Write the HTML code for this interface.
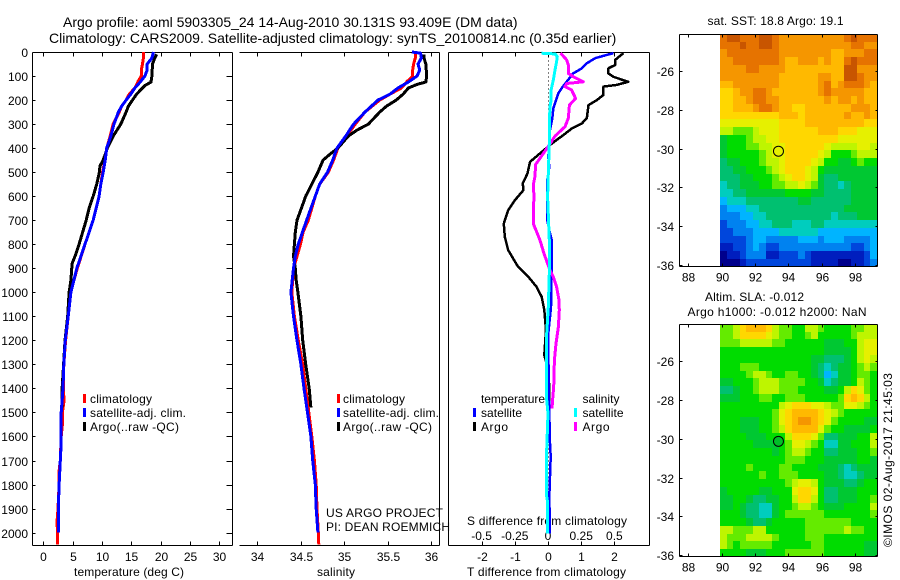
<!DOCTYPE html>
<html>
<head>
<meta charset="utf-8">
<title>Argo profile</title>
<style>
html,body{margin:0;padding:0;background:#fff;}
svg{display:block;}
text{font-family:"Liberation Sans",sans-serif;font-size:12px;fill:#000;}
.title{font-size:14px;}
</style>
</head>
<body>
<svg id="chart" width="900" height="580" viewBox="0 0 900 580" xmlns="http://www.w3.org/2000/svg">
<text class="title" x="63" y="27">Argo profile: aoml 5903305_24 14-Aug-2010 30.131S 93.409E (DM data)</text>
<text class="title" x="49" y="43">Climatology: CARS2009. Satellite-adjusted climatology: synTS_20100814.nc (0.35d earlier)</text>
<text x="74" y="576" textLength="110">temperature (deg C)</text>
<text x="317" y="576" textLength="38">salinity</text>
<text x="467" y="525" textLength="160">S difference from climatology</text>
<text x="467" y="576" textLength="159">T difference from climatology</text>
<text x="326" y="517" textLength="117">US ARGO PROJECT</text>
<text x="326" y="531" textLength="124">PI: DEAN ROEMMICH</text>
<text x="90" y="403" textLength="62">climatology</text>
<text x="90" y="417" textLength="96">satellite-adj. clim.</text>
<text x="90" y="431" textLength="89">Argo(..raw -QC)</text>
<text x="343" y="403" textLength="62">climatology</text>
<text x="343" y="417" textLength="96">satellite-adj. clim.</text>
<text x="343" y="431" textLength="89">Argo(..raw -QC)</text>
<text x="481" y="403" textLength="64">temperature</text>
<text x="481" y="417" textLength="41">satellite</text>
<text x="481" y="431" textLength="27">Argo</text>
<text x="582.5" y="403" textLength="37">salinity</text>
<text x="582.5" y="417" textLength="41">satellite</text>
<text x="582.5" y="431" textLength="27">Argo</text>
<text x="707.5" y="25" textLength="136">sat. SST: 18.8 Argo: 19.1</text>
<text x="705" y="301" textLength="99">Altim. SLA: -0.012</text>
<text x="687.5" y="316" textLength="179">Argo h1000: -0.012 h2000: NaN</text>
<text transform="translate(892,547) rotate(-90)" textLength="174">©IMOS 02-Aug-2017 21:45:03</text>
</svg>
<script>
// ---- Axis tick data ----
const depthTicks = [0,100,200,300,400,500,600,700,800,900,1000,1100,1200,1300,1400,1500,1600,1700,1800,1900,2000];
const tempTicks = [0,5,10,15,20,25,30];
const salTicks = [34,34.5,35,35.5,36];
const salTickLabels = ['34','34.5','35','35.5','36'];
const tDiffTicks = [-2,-1,0,1,2];
const sDiffTicks = [-0.5,-0.25,0,0.25,0.5];
const sDiffTickLabels = ['-0.5','-0.25','0','0.25','0.5'];
const lonTicks = [88,90,92,94,96,98];
const latTicks = [-26,-28,-30,-32,-34,-36];

// ---- Temperature profiles ----
const climTempDepth = [0,25,50,75,100,120,150,175,200,225,250,300,350,400,450,500,550,600,700,800,900,1000,1100,1200,1300,1400,1450,1500,1550,1600,1700,1750,1800,1900,1950,2000,2050];
const climTemp = [17.05,17.05,16.9,16.7,16.7,16.2,15.6,14.65,14.1,13.35,12.95,11.9,11.4,10.8,10.5,10.1,9.8,9.5,8.5,7.1,5.8,4.65,4.25,3.8,3.5,3.4,3.55,3.25,3.25,3.05,2.9,2.65,2.7,2.5,2.35,2.4,2.4];
const satTempDepth = [0,25,50,75,100,125,150,175,200,225,250,300,350,400,450,500,550,600,700,800,900,1000,1100,1200,1300,1400,1500,1650,1700,1800,1900,2000];
const satTemp = [18.75,18.5,17.7,17.7,17.3,16.5,15.6,14.9,14.1,13.35,12.8,12.05,11.5,10.8,10.55,10.2,9.8,9.5,8.5,7.1,5.7,4.7,4.25,3.75,3.5,3.35,3.05,3.0,2.9,2.7,2.55,2.55];
const argoTempDepth = [10,25,50,100,125,140,175,225,250,300,350,400,450,475,500,550,600,650,700,800,850,880,950,1000,1100,1200,1300,1400,1480];
const argoTemp = [19.3,19.0,18.6,18.5,18.35,17.3,15.9,14.5,14.1,13.2,11.9,10.9,10.2,9.65,9.55,9.1,8.5,7.8,7.3,6.1,5.4,4.9,4.7,4.4,4.15,3.7,3.45,3.2,3.15];

// ---- Salinity profiles ----
const climSalDepth = [0,25,50,75,100,125,150,175,200,250,300,350,400,450,500,550,600,700,750,800,850,900,950,1000,1100,1200,1300,1400,1500,1600,1700,1800,1900,2000,2050];
const climSal = [35.82,35.82,35.8,35.79,35.79,35.72,35.66,35.53,35.41,35.24,35.13,35.03,34.93,34.88,34.82,34.72,34.67,34.59,34.53,34.5,34.46,34.42,34.41,34.4,34.43,34.475,34.525,34.56,34.595,34.63,34.66,34.68,34.69,34.705,34.71];
const satSalDepth = [0,5,25,50,75,100,125,150,175,200,250,300,350,400,450,500,550,600,700,800,850,900,1000,1100,1200,1300,1400,1500,1600,1700,1800,1900,2000];
const satSal = [35.78,35.88,35.89,35.85,35.87,35.84,35.74,35.62,35.53,35.39,35.24,35.11,35.02,34.92,34.87,34.81,34.72,34.67,34.57,34.475,34.44,34.42,34.39,34.42,34.46,34.505,34.54,34.58,34.62,34.64,34.67,34.68,34.7];
const argoSalDepth = [10,25,50,100,125,135,150,175,200,225,250,300,325,350,400,425,450,500,550,600,650,700,750,800,850,900,950,1000,1100,1200,1300,1400,1480];
const argoSal = [35.92,35.92,35.94,35.95,35.94,35.84,35.74,35.68,35.6,35.49,35.41,35.28,35.15,35.05,34.93,34.84,34.76,34.7,34.63,34.56,34.51,34.46,34.44,34.43,34.42,34.44,34.45,34.47,34.505,34.525,34.56,34.6,34.62];

// ---- Differences from climatology ----
const diffArgoTDepth = [5,33,54,68,89,103,124,137,144,179,200,221,276,297,318,346,381,422,457,506,547,575,617,658,714,769,825,894,936,978,1019,1061,1074,1157,1261,1308,1377,1470];
const diffArgoT = [2.27,2.02,2.02,1.82,1.82,1.97,2.42,2.07,1.67,1.67,1.47,1.22,1.17,1.02,0.72,0.46,0.11,-0.24,-0.54,-0.62,-0.76,-0.74,-1.0,-1.2,-1.33,-1.3,-1.2,-0.9,-0.59,-0.34,-0.19,-0.13,-0.11,-0.06,-0.11,-0.02,0.03,0.03];
const diffSatTDepth = [5,12,26,47,68,89,124,151,172,214,235,276,325,381,436,478,533,603,700,742,783,894,1061,1171,1261,1337,1448,1628,1684,1767,1851,2003];
const diffSatT = [1.97,1.77,1.42,1.17,1.02,0.76,0.56,0.41,0.31,0.21,0.16,0.13,0.06,0.04,0.01,0.04,-0.02,-0.02,-0.02,0.04,0.11,0.11,0.09,0.01,0.01,0.02,0.03,0.06,0.08,0.06,0.04,0.06];
const diffSatSDepth = [5,8,19,40,75,117,158,200,228,297,381,506,603,783,922,1061,1171,1448,1503,1656,1851,1865,2003];
const diffSatS = [-0.048,0.053,0.07,0.065,0.053,0.04,0.023,0.023,0.015,0.01,0.01,0.002,-0.003,0.01,0.01,0.002,-0.01,-0.01,0,-0.01,-0.01,-0.005,-0.005];
const diffArgoSDepth = [5,33,54,89,103,124,131,144,158,193,221,276,311,350,392,433,468,517,553,594,714,742,783,839,908,936,978,1032,1074,1143,1213,1282,1393,1448,1483];
const diffArgoS = [0.095,0.141,0.153,0.153,0.191,0.266,0.141,0.128,0.178,0.208,0.161,0.153,0.128,0.053,0.003,-0.048,-0.093,-0.098,-0.111,-0.106,-0.111,-0.09,-0.06,-0.03,0.015,0.04,0.065,0.083,0.085,0.078,0.06,0.048,0.043,0.035,0.03];

// ---- Map colour levels ----
const levelColors = ['#00008c','#001ebe','#0046dc','#0082f0','#00b4ff','#00cdbe','#00c070','#00c832','#00dc00','#64eb00','#bef500','#e6f000','#ffd700','#ffb900','#f59600','#e67300','#c85500'];

const sstLevels = [
[15,16,16,15,15,15,16,16,15,14,14,14,14,14,14,14,14,14,14,15,16,15,15,15],
[15,15,15,16,15,15,16,16,15,14,14,14,14,14,14,14,14,14,14,14,15,15,14,14],
[14,15,15,15,15,15,15,15,15,14,14,14,14,14,14,14,14,13,13,14,14,14,15,15],
[14,14,15,15,15,15,15,15,15,14,13,13,14,14,14,13,14,13,13,15,16,15,15,15],
[14,14,14,14,15,15,14,14,14,14,13,13,13,13,13,13,13,13,13,16,16,14,14,14],
[14,14,14,14,14,14,14,14,14,13,13,13,13,13,13,14,14,13,13,16,16,15,14,14],
[13,13,14,14,14,14,14,14,14,13,13,13,13,13,13,14,15,13,14,15,15,15,14,13],
[12,12,13,14,14,15,15,14,13,13,13,13,13,13,13,14,15,14,14,14,14,14,13,13],
[12,12,13,13,14,15,15,14,14,13,13,13,13,13,13,13,14,13,14,14,13,14,13,13],
[12,12,13,13,13,14,15,15,14,13,13,12,12,13,13,13,13,13,13,13,14,14,14,13],
[12,12,12,12,12,12,12,12,12,13,13,13,12,13,13,13,13,13,13,14,13,13,14,13],
[11,11,11,11,11,11,11,11,11,12,12,12,12,13,13,13,13,13,13,13,13,13,12,12],
[10,10,9,9,9,10,11,11,11,12,12,12,12,12,12,13,13,13,12,12,12,11,11,11],
[7,8,8,8,9,10,10,11,11,12,12,12,12,12,12,12,12,12,11,11,11,11,11,11],
[7,8,8,8,9,9,10,10,11,11,12,12,12,12,12,12,11,10,10,10,10,11,11,10],
[7,8,8,8,8,8,9,10,11,11,12,12,12,12,12,11,10,8,8,8,9,10,10,10],
[6,7,7,8,8,8,9,10,10,11,12,12,12,12,11,10,8,8,7,7,8,9,8,8],
[6,6,7,7,8,8,8,9,10,11,12,12,12,11,10,8,7,7,7,7,7,7,7,7],
[6,6,6,7,7,8,8,8,9,10,11,12,12,11,10,7,6,6,7,7,7,7,7,7],
[5,6,6,7,7,7,8,8,9,9,10,10,11,10,9,7,6,6,5,6,7,7,7,7],
[5,5,6,6,7,7,7,7,7,7,8,8,8,8,7,7,6,6,6,6,7,7,7,7],
[4,5,5,5,6,6,6,6,6,6,6,6,7,7,6,6,6,6,6,6,7,7,7,7],
[3,4,4,4,5,5,6,6,6,6,6,6,6,6,6,6,6,6,6,7,7,7,7,7],
[3,3,3,4,4,5,5,6,6,6,6,6,6,6,6,6,6,5,6,6,6,7,7,7],
[2,3,3,3,4,4,5,5,6,6,6,5,5,5,6,6,5,5,5,5,5,5,5,5],
[2,2,3,3,3,4,4,4,4,5,5,5,5,5,5,4,4,4,4,4,4,4,4,4],
[2,2,2,2,3,4,4,3,3,3,3,3,4,4,4,3,4,4,4,3,3,3,3,4],
[1,1,2,2,3,4,3,2,2,3,3,3,3,3,3,3,3,3,3,3,2,2,3,4],
[0,1,1,2,3,3,3,1,1,2,2,2,3,2,1,1,1,1,1,1,1,1,2,4],
[0,0,0,1,2,2,2,2,2,2,2,2,2,2,1,1,1,1,0,0,1,1,2,3]
];

const slaLevels = [
[9,9,10,12,13,13,13,12,10,9,9,8,8,10,10,9,8,8,8,8,9,9,10,10],
[9,9,10,12,12,12,12,11,10,9,9,8,8,9,10,8,8,8,8,8,9,10,10,10],
[9,9,9,10,10,10,10,10,9,9,8,8,8,8,8,8,7,7,7,8,8,10,11,11],
[8,8,8,8,8,8,8,8,8,8,8,8,8,8,8,8,7,7,7,7,8,10,11,11],
[8,8,8,8,8,8,8,8,8,8,8,8,8,8,7,7,6,6,6,7,8,10,11,10],
[8,8,8,9,9,9,8,8,8,8,8,8,8,8,7,6,5,6,7,7,8,9,10,9],
[8,8,8,8,9,10,10,9,8,8,9,9,8,8,7,6,4,5,7,7,8,9,9,8],
[7,7,8,8,8,9,10,10,10,9,9,9,9,8,8,7,5,6,7,7,8,10,9,8],
[6,6,7,8,8,9,10,10,10,9,9,9,8,8,8,8,7,7,8,10,12,11,9,8],
[7,7,7,8,8,8,9,9,8,8,9,9,9,8,8,8,8,8,9,12,13,12,10,8],
[8,8,8,8,8,8,8,8,8,10,11,12,12,12,11,11,10,9,9,11,11,10,9,8],
[8,8,8,8,8,8,8,8,9,11,12,13,13,13,13,12,11,10,9,8,8,8,8,8],
[8,8,8,7,7,7,8,8,9,11,12,13,14,14,13,12,11,9,8,8,8,8,7,7],
[8,8,8,7,7,7,8,8,9,10,12,13,13,13,13,11,9,8,8,7,7,7,7,8],
[8,8,8,8,7,7,7,8,8,8,10,12,12,12,11,9,6,6,7,7,7,8,8,10],
[8,8,8,8,8,7,7,7,7,8,9,11,11,10,9,8,5,5,7,7,8,8,8,10],
[8,8,8,8,8,8,8,8,7,8,9,10,10,9,8,8,6,6,7,7,7,8,8,9],
[8,8,8,8,8,8,8,8,8,8,9,9,9,8,8,8,7,7,7,7,7,8,8,7],
[8,8,8,8,9,8,8,8,8,9,9,8,8,8,8,7,7,7,6,5,6,7,7,7],
[8,8,8,8,8,8,9,8,8,9,9,9,8,8,8,8,7,7,6,5,5,6,7,7],
[8,8,8,8,8,8,8,8,8,8,9,10,11,11,10,8,7,7,7,6,6,7,8,8],
[7,8,8,8,8,8,7,7,8,8,8,11,12,12,11,8,6,6,7,7,7,8,8,8],
[7,7,8,8,7,6,6,7,7,8,8,10,12,12,10,8,6,6,7,7,7,8,8,9],
[7,7,8,7,6,6,5,5,7,8,8,9,10,10,9,8,7,7,7,8,8,8,8,10],
[8,8,8,7,6,6,5,5,7,8,9,9,9,9,9,9,8,8,8,8,8,8,8,9],
[8,8,8,8,7,6,6,7,8,8,8,8,8,9,9,9,9,9,9,9,8,8,8,8],
[10,10,9,9,9,10,10,8,8,8,8,8,8,9,9,9,9,9,9,10,9,9,8,8],
[10,9,9,9,10,10,10,10,9,8,8,8,8,9,9,9,8,8,8,8,8,8,8,8],
[10,9,8,9,9,9,9,9,8,8,8,8,8,8,9,9,8,8,8,8,8,8,7,7],
[8,8,8,8,7,7,7,8,8,8,9,9,9,9,9,9,8,8,8,8,8,8,7,7]
];

const argoLon = 93.409;
const argoLat = -30.131;

// ---- Axis functions ----
const yDepth = d => 52 + 0.2403 * d;
const xTemp = t => 43.3 + 5.87 * t;
const xSal = s => 257 + 87 * (s - 34);
const xTDiff = t => 548 + 33.2 * t;
const xSDiff = s => 548 + 132.8 * s;
const xLon = lon => 688.3 + 16.67 * (lon - 88);
const ySst = lat => 71.3 + 19.34 * (-26 - lat);
const ySla = lat => 361.3 + 19.37 * (-26 - lat);

const NS = 'http://www.w3.org/2000/svg';
const svg = document.getElementById('chart');
function mk(tag, attrs) {
  const el = document.createElementNS(NS, tag);
  for (const k in attrs) el.setAttribute(k, attrs[k]);
  svg.appendChild(el);
  return el;
}
function seg(x1, y1, x2, y2, name, color) {
  const el = mk('line', {x1: x1, y1: y1, x2: x2, y2: y2, stroke: color || '#000', 'stroke-width': 1, 'shape-rendering': 'crispEdges'});
  
  
  return el;
}
function label(x, y, str, anchor, name) {
  const el = mk('text', {x: x, y: y, 'text-anchor': anchor});
  el.textContent = str;
  
  
  return el;
}
function profile(depths, values, xFn, color, width, name) {
  const pts = depths.map((d, i) => xFn(values[i]).toFixed(1) + ',' + yDepth(d).toFixed(1)).join(' ');
  const el = mk('polyline', {points: pts, fill: 'none', stroke: color, 'stroke-width': width, 'stroke-linejoin': 'round', 'shape-rendering': 'crispEdges'});
  
  
  return el;
}
function swatch(x, y, color, name) {
  const el = mk('rect', {x: x, y: y, width: 3, height: 9, fill: color, 'shape-rendering': 'crispEdges'});
  
  
  return el;
}
function heatmap(levels, yFn, name) {
  const lon0 = 89.9, dLon = 0.3917, lat0 = -24.07, dLat = 0.401;
  levels.forEach((row, r) => row.forEach((lv, c) => {
    const x0 = Math.round(xLon(lon0 + c * dLon)), x1 = Math.round(xLon(lon0 + (c + 1) * dLon));
    const y0 = Math.round(yFn(lat0 - r * dLat)), y1 = Math.round(yFn(lat0 - (r + 1) * dLat));
    const el = mk('rect', {x: x0, y: y0, width: x1 - x0, height: y1 - y0, fill: levelColors[lv], 'shape-rendering': 'crispEdges'});
    
    
  }));
}

// ---- Profile panel frames ----
const P1 = {l: 32.5, r: 232.5, t: 52.5, b: 545.5};
const P2 = {l: 239.5, r: 439.5, t: 52.5, b: 545.5};
const P3 = {l: 448.5, r: 649.5, t: 52.5, b: 545.5};

seg(P1.l, P1.t, P1.l, P1.b, 'temperature-panel-left-edge');
seg(P1.l, P1.t, P1.r, P1.t, 'temperature-panel-top-edge');
seg(P1.r, P1.t, P1.r, P1.b, 'temperature-panel-right-edge');
seg(P1.l, P1.b, P1.r, P1.b, 'temperature-panel-bottom-edge');
seg(P2.l, P2.t, P2.r, P2.t, 'salinity-panel-top-edge');
seg(P2.r, P2.t, P2.r, P2.b, 'salinity-panel-right-edge');
seg(P2.l, P2.b, P2.r, P2.b, 'salinity-panel-bottom-edge');
seg(P3.l, P3.t, P3.l, P3.b, 'difference-panel-left-edge');
seg(P3.l, P3.t, P3.r, P3.t, 'difference-panel-top-edge');
seg(P3.r, P3.t, P3.r, P3.b, 'difference-panel-right-edge');
seg(P3.l, P3.b, P3.r, P3.b, 'difference-panel-bottom-edge');

depthTicks.forEach(d => {
  const y = Math.round(yDepth(d)) + 0.5;
  label(28, y + 4.5, String(d), 'end', 'depth-tick-label');
  seg(P1.l, y, P1.l + 3, y, 'depth-tick-left');
  seg(P1.r - 6, y, P1.r, y, 'depth-tick-right');
});
tempTicks.forEach(t => {
  const x = Math.round(xTemp(t)) + 0.5;
  seg(x, P1.t, x, P1.t + 4, 'temperature-tick-top');
  seg(x, P1.b - 4, x, P1.b, 'temperature-tick-bottom');
  label(x, 561, String(t), 'middle', 'temperature-tick-label');
});
salTicks.forEach((s, i) => {
  const x = Math.round(xSal(s)) + 0.5;
  seg(x, P2.t, x, P2.t + 4, 'salinity-tick-top');
  seg(x, P2.b - 4, x, P2.b, 'salinity-tick-bottom');
  label(x, 561, salTickLabels[i], 'middle', 'salinity-tick-label');
});
tDiffTicks.forEach(t => {
  const x = Math.round(xTDiff(t)) + 0.5;
  seg(x, P3.t, x, P3.t + 4, 'tdiff-tick-top');
  seg(x, P3.b - 4, x, P3.b, 'tdiff-tick-bottom');
  label(x, 561, String(t), 'middle', 'tdiff-tick-label');
});
sDiffTicks.forEach((s, i) => {
  label(xSDiff(s), 540, sDiffTickLabels[i], 'middle', 'sdiff-tick-label');
});

// ---- Zero reference (dotted) ----
const zeroLine = seg(xTDiff(0) + 0.5, P3.t, xTDiff(0) + 0.5, P3.b - 20, 'zero-difference-line');
zeroLine.setAttribute('stroke-dasharray', '1 3');

// ---- Series ----
profile(climTempDepth, climTemp, xTemp, '#ff0000', 3, 'temperature-climatology-line');
profile(argoTempDepth, argoTemp, xTemp, '#000000', 3, 'temperature-argo-line');
profile(satTempDepth, satTemp, xTemp, '#0000ff', 3, 'temperature-satellite-line');

profile(climSalDepth, climSal, xSal, '#ff0000', 3, 'salinity-climatology-line');
profile(argoSalDepth, argoSal, xSal, '#000000', 3, 'salinity-argo-line');
profile(satSalDepth, satSal, xSal, '#0000ff', 3, 'salinity-satellite-line');

profile(diffArgoTDepth, diffArgoT, xTDiff, '#000000', 2.5, 'tdiff-argo-line');
profile(diffSatTDepth, diffSatT, xTDiff, '#0000ff', 2.5, 'tdiff-satellite-line');
profile(diffArgoSDepth, diffArgoS, xSDiff, '#ff00ff', 3, 'sdiff-argo-line');
profile(diffSatSDepth, diffSatS, xSDiff, '#00ffff', 3, 'sdiff-satellite-line');

// ---- Legend swatches ----
swatch(83, 394, '#ff0000', 'legend-t-climatology-swatch');
swatch(83, 408, '#0000ff', 'legend-t-satellite-swatch');
swatch(83, 422, '#000000', 'legend-t-argo-swatch');
swatch(337, 394, '#ff0000', 'legend-s-climatology-swatch');
swatch(337, 408, '#0000ff', 'legend-s-satellite-swatch');
swatch(337, 422, '#000000', 'legend-s-argo-swatch');
swatch(473, 408, '#0000ff', 'legend-diff-t-satellite-swatch');
swatch(473, 422, '#000000', 'legend-diff-t-argo-swatch');
swatch(574, 408, '#00ffff', 'legend-diff-s-satellite-swatch');
swatch(574, 422, '#ff00ff', 'legend-diff-s-argo-swatch');

// ---- Maps ----
function mapFrame(levels, yFn, top, bottom, prefix, fill) {
  heatmap(levels, yFn, prefix);
  const l = 679.5, r = 877.5;
  seg(l, top, r, top, prefix + '-top-edge');
  seg(l, bottom, r, bottom, prefix + '-bottom-edge');
  seg(l, top, l, bottom, prefix + '-left-edge');
  seg(r, top, r, bottom, prefix + '-right-edge');
  lonTicks.forEach(lon => {
    const x = Math.round(xLon(lon)) + 0.5;
    seg(x, top, x, top + 3, prefix + '-lon-tick-top');
    seg(x, bottom - 3, x, bottom, prefix + '-lon-tick-bottom');
    label(x, bottom + 15, String(lon), 'middle', prefix + '-lon-tick-label');
  });
  latTicks.forEach(lat => {
    const y = Math.round(yFn(lat)) + 0.5;
    seg(l, y, l + 3, y, prefix + '-lat-tick-left');
    seg(r - 2, y, r, y, prefix + '-lat-tick-right');
    label(674, y + 4.5, '-' + Math.abs(lat), 'end', prefix + '-lat-tick-label');
  });
  const c = mk('circle', {cx: xLon(argoLon), cy: yFn(argoLat), r: 5, fill: fill, stroke: '#000', 'stroke-width': 1});
  
  
}
mapFrame(sstLevels, ySst, 34.5, 266.5, 'sst-map', 'none');
mapFrame(slaLevels, ySla, 324.5, 556.5, 'sla-map', '#00be28');
</script>
</body>
</html>
